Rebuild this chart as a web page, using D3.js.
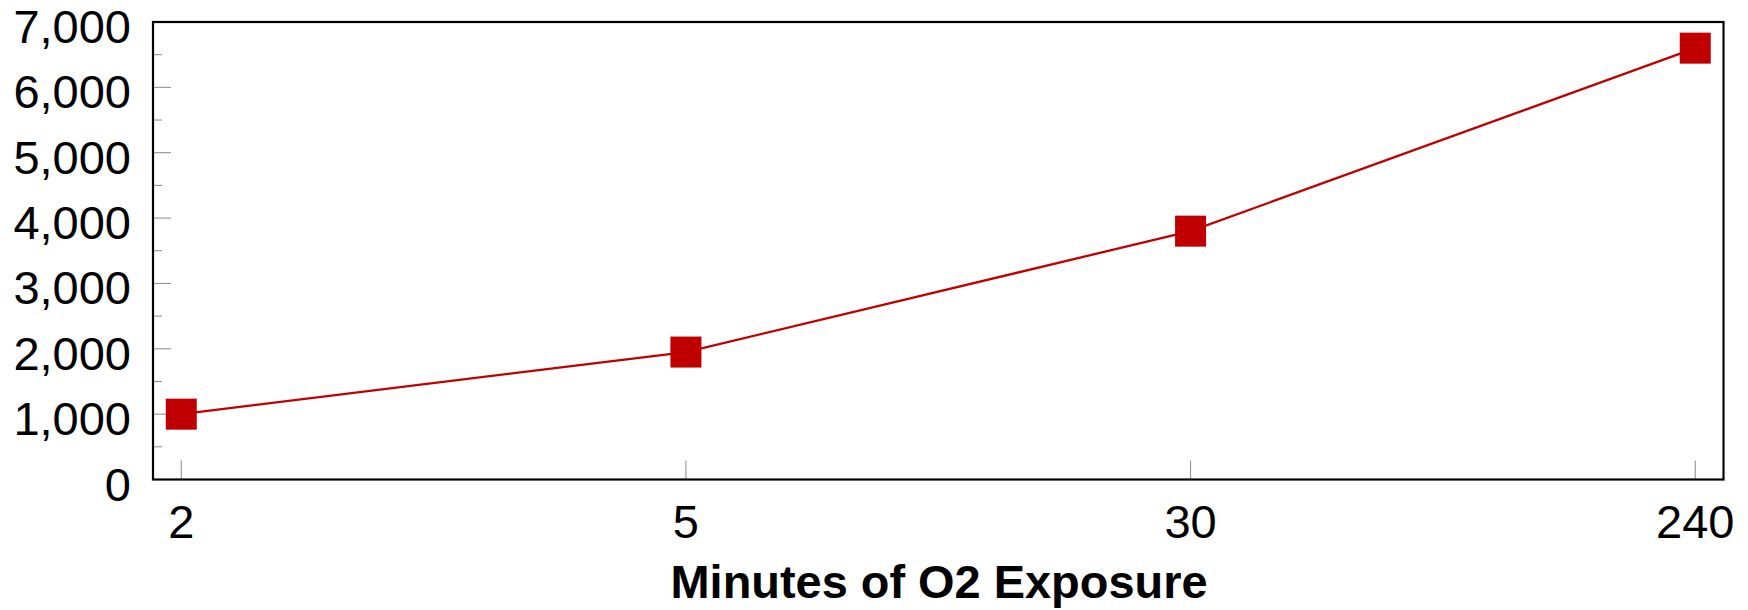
<!DOCTYPE html>
<html>
<head>
<meta charset="utf-8">
<script src="https://cdn.jsdelivr.net/npm/d3@7"></script>
<style>
  html, body { margin: 0; padding: 0; background: #fff; }
  svg { display: block; }
  text { font-family: "Liberation Sans", Arial, sans-serif; fill: #000; }
</style>
</head>
<body>
<svg id="chart" width="1748" height="610"></svg>
<script>
// ---- data ----
const categories = ["2", "5", "30", "240"];
const values = [1000, 1950, 3800, 6600];
const yTicks = [0, 1000, 2000, 3000, 4000, 5000, 6000, 7000];
const yMinorTicks = [500, 1500, 2500, 3500, 4500, 5500, 6500];
const xTitle = "Minutes of O2 Exposure";

// ---- layout ----
const plotL = 153, plotT = 22, plotR = 1723.5, plotB = 479.5;
const svg = d3.select("#chart");

const x = d3.scalePoint().domain(categories).range([plotL, plotR]).padding(0.056);
const y = d3.scaleLinear().domain([0, 7000]).range([plotB, plotT]);

const fmt = d3.format(",");

// minor y ticks (inside)
svg.append("g").selectAll("line").data(yMinorTicks).join("line")
  .attr("x1", plotL).attr("x2", plotL + 9)
  .attr("y1", d => y(d)).attr("y2", d => y(d))
  .attr("stroke", "#8a8a8a").attr("stroke-width", 1);

// major y ticks (inside)
svg.append("g").selectAll("line").data(yTicks.filter(d => d > 0 && d < 7000)).join("line")
  .attr("x1", plotL).attr("x2", plotL + 18)
  .attr("y1", d => y(d)).attr("y2", d => y(d))
  .attr("stroke", "#8a8a8a").attr("stroke-width", 1);

// x ticks (inside, upward)
svg.append("g").selectAll("line").data(categories).join("line")
  .attr("x1", d => x(d)).attr("x2", d => x(d))
  .attr("y1", plotB).attr("y2", plotB - 19)
  .attr("stroke", "#8a8a8a").attr("stroke-width", 1);

// frame
svg.append("rect")
  .attr("x", plotL).attr("y", plotT)
  .attr("width", plotR - plotL).attr("height", plotB - plotT)
  .attr("fill", "none").attr("stroke", "#000").attr("stroke-width", 2.2);

// y tick labels
svg.append("g").selectAll("text").data(yTicks).join("text")
  .attr("x", 131).attr("y", d => y(d) + 21)
  .attr("text-anchor", "end")
  .style("font-size", "47px")
  .text(d => fmt(d));

// x tick labels
svg.append("g").selectAll("text").data(categories).join("text")
  .attr("x", d => x(d)).attr("y", 538.3)
  .attr("text-anchor", "middle")
  .style("font-size", "47px")
  .text(d => d);

// x axis title
svg.append("text")
  .attr("transform", `translate(939,597.7) scale(1.02,1)`)
  .attr("text-anchor", "middle")
  .style("font-size", "46px")
  .style("font-weight", "bold")
  .text(xTitle);

// line
const pts = categories.map((c, i) => ({c, v: values[i]}));
svg.append("path")
  .datum(pts)
  .attr("d", d3.line().x(d => x(d.c)).y(d => y(d.v)))
  .attr("fill", "none").attr("stroke", "#C00000").attr("stroke-width", 2.3);

// markers
const ms = 31;
svg.append("g").selectAll("rect").data(pts).join("rect")
  .attr("x", d => x(d.c) - ms / 2).attr("y", d => y(d.v) - ms / 2)
  .attr("width", ms).attr("height", ms)
  .attr("fill", "#C00000");
</script>
</body>
</html>
